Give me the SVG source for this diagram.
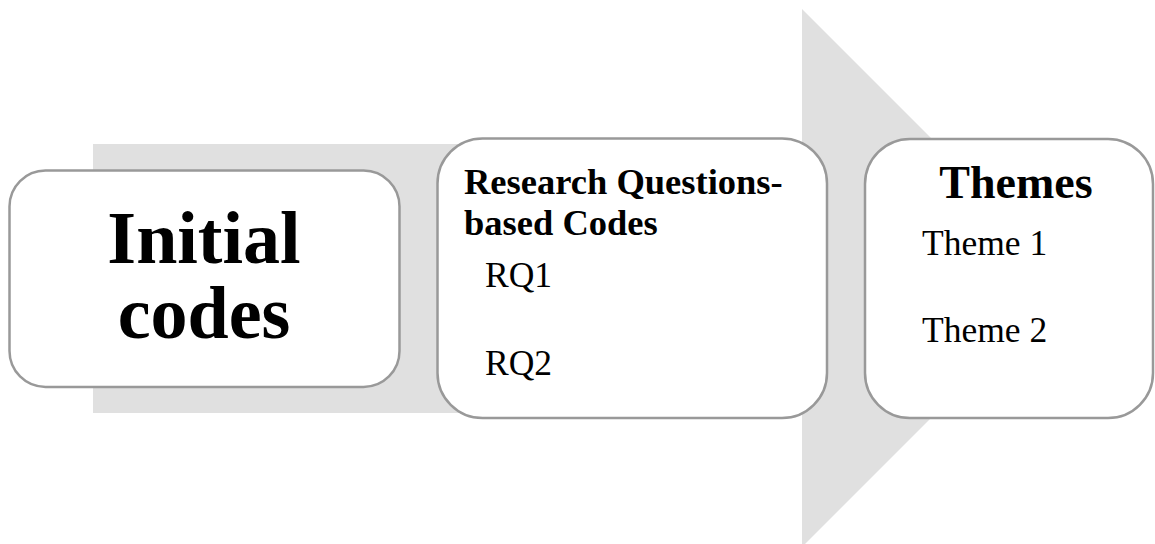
<svg xmlns="http://www.w3.org/2000/svg" width="1155" height="544" viewBox="0 0 1155 544">
<style>
.box{fill:#ffffff;stroke:#999999;stroke-width:2.5}
.b{font-family:"Liberation Serif","Times New Roman",serif;font-weight:bold;fill:#000}
.r{font-family:"Liberation Serif","Times New Roman",serif;fill:#000}
</style>
<rect width="1155" height="544" fill="#ffffff"/>
<g id="arrow">
<path d="M93 144 H802 V9 L1071 278 L802 547 V413 H93 Z" fill="#e0e0e0"/>
</g>
<g id="connectors"></g>
<g id="node-initial">
<rect class="box" x="9.5" y="170.5" width="390" height="216.5" rx="36"/>
<text class="b" x="204" y="263" font-size="74" text-anchor="middle">Initial</text>
<text class="b" x="204" y="338" font-size="74" text-anchor="middle">codes</text>
</g>
<g id="node-rq">
<rect class="box" x="437.5" y="138.5" width="389.5" height="279.5" rx="45"/>
<text class="b" x="464" y="193.5" font-size="36.5">Research Questions-</text>
<text class="b" x="464" y="234.5" font-size="36.5">based Codes</text>
<text class="r" x="485" y="287" font-size="35.5">RQ1</text>
<text class="r" x="485" y="375" font-size="35.5">RQ2</text>
</g>
<g id="node-themes">
<rect class="box" x="865" y="139" width="288" height="279" rx="45"/>
<text class="b" x="1016" y="198" font-size="46" text-anchor="middle">Themes</text>
<text class="r" x="922" y="255" font-size="35.5">Theme 1</text>
<text class="r" x="922" y="342" font-size="35.5">Theme 2</text>
</g>
</svg>
